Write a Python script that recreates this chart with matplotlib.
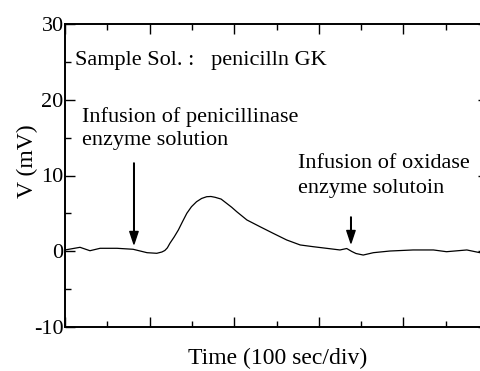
import matplotlib
matplotlib.use("Agg")
import matplotlib.pyplot as plt
from matplotlib.ticker import MultipleLocator, NullFormatter

plt.rcParams['font.family'] = ['Liberation Serif', 'DejaVu Serif']

# data (x in divisions, y in mV)
time_div = [0, 0.355, 0.59, 0.83, 1.23, 1.61, 1.94, 2.17, 2.29, 2.36, 2.42, 2.48, 2.58,
            2.68, 2.78, 2.88, 2.99, 3.11, 3.23, 3.35, 3.45, 3.55, 3.69, 3.82, 3.94,
            4.06, 4.30, 4.61, 4.92, 5.24, 5.56, 5.87, 6.18,
            6.5, 6.66, 6.78, 6.88, 7.05, 7.29, 7.68, 8.23, 8.71, 9.02, 9.50, 9.81, 10.0]
voltage = [0.17, 0.52, 0.07, 0.39, 0.39, 0.26, -0.19, -0.27, -0.1, 0.1, 0.45, 1.05, 1.88,
           2.81, 3.93, 5.01, 5.88, 6.54, 6.97, 7.2, 7.23, 7.12, 6.89, 6.33, 5.81,
           5.22, 4.13, 3.24, 2.37, 1.49, 0.83, 0.6, 0.39,
           0.17, 0.36, -0.03, -0.3, -0.5, -0.19, 0.03, 0.17, 0.17, -0.06, 0.17, -0.19, -0.03]
ytick_vals = [-10, 0, 10, 20, 30]
ytick_labels = ['-10', '0', '10', '20', '30']
arrow1 = (1.63, 11.65, 0.96)   # x, y_start, y_tip
arrow2 = (6.76, 4.52, 1.09)

fig = plt.figure(figsize=(4.8, 3.71), dpi=100)
ax = fig.add_axes([65/480, 44/371, 423/480, 303/371])
ax.plot(time_div, voltage, color='black', lw=0.9, solid_joinstyle='round')
ax.set_xlim(0, 10)
ax.set_ylim(-10, 30)

ax.xaxis.set_major_locator(MultipleLocator(2))
ax.xaxis.set_minor_locator(MultipleLocator(1))
ax.xaxis.set_major_formatter(NullFormatter())
ax.yaxis.set_minor_locator(MultipleLocator(5))
ax.set_yticks(ytick_vals)
ax.set_yticklabels(ytick_labels)
ax.tick_params(which='both', direction='in', top=True, right=True, width=1.0)
ax.tick_params(which='major', length=7, pad=1, labelsize=16)
ax.tick_params(which='minor', length=4)
for s in ax.spines.values():
    s.set_linewidth(1.4)

ax.text(0.236, 24.6, 'Sample Sol. :   penicilln GK', fontsize=16, va='baseline')
ax.text(0.40, 17.06, 'Infusion of penicillinase', fontsize=16, va='baseline')
ax.text(0.40, 14.03, 'enzyme solution', fontsize=16, va='baseline')
ax.text(5.51, 10.99, 'Infusion of oxidase', fontsize=16, va='baseline')
ax.text(5.51, 7.69, 'enzyme solutoin', fontsize=16, va='baseline')

for (ax_x, y0, y1) in (arrow1, arrow2):
    ax.annotate('', xy=(ax_x, y1), xytext=(ax_x, y0),
                arrowprops=dict(facecolor='black', edgecolor='black', width=0.4,
                                headwidth=6, headlength=9, shrink=0))

fig.text(278/480, 1 - 364/371, 'Time (100 sec/div)', fontsize=17, ha='center', va='baseline')
fig.text(27/480, 1 - 161/371, 'V (mV)', fontsize=17, ha='center', va='center', rotation=90)

fig.savefig('out.png', dpi=100)
